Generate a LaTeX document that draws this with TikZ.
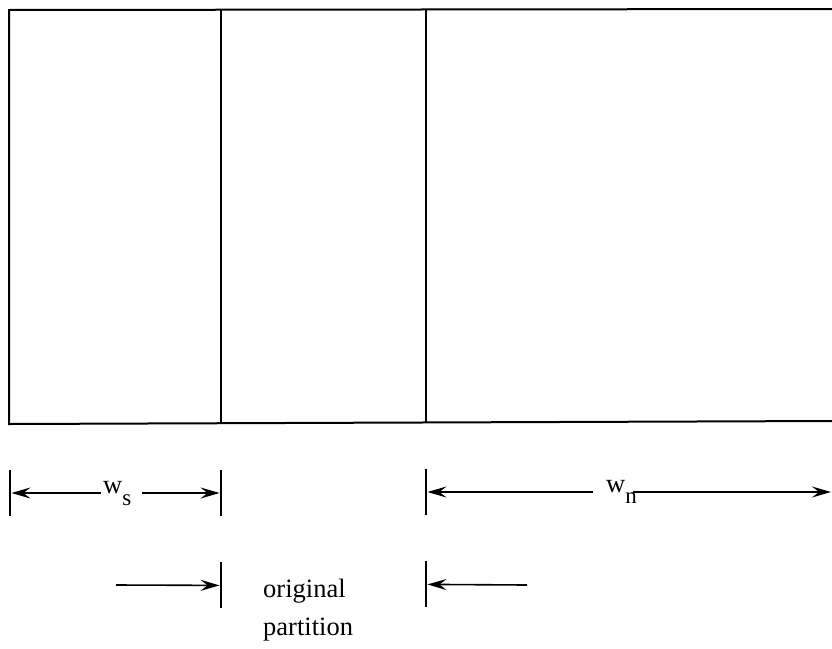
\documentclass[tikz,border=0pt]{standalone}
\usepackage{fontspec}
\setmainfont{Liberation Serif}
\usetikzlibrary{positioning,arrows.meta}

\begin{document}
\begin{tikzpicture}[x=1pt,y=-1pt,
        boxline/.style={line width=2pt},
        dimline/.style={line width=1.6pt, -{Stealth[length=19pt,width=11pt,inset=7pt]}},
        tick/.style={rectangle, fill=black, minimum width=2.5pt, minimum height=46pt, inner sep=0pt},
        labeltext/.style={inner sep=0pt, font=\fontsize{26.5}{38}\selectfont},
        ]
        \useasboundingbox (0,0) rectangle (832,648);
        %Box
        \coordinate (tl) at (9,10);
        \coordinate (tr) at (832,9);
        \coordinate (bl) at (9,424);
        \coordinate (br) at (832,421);
        \coordinate (d1t) at (221,10);
        \coordinate (d1b) at (221,424);
        \coordinate (d2t) at (426,10);
        \coordinate (d2b) at (426,423);
        \draw[boxline] (tr) -- (tl) -- (bl) -- (br);
        \draw[boxline] (d1t) -- (d1b);
        \draw[boxline] (d2t) -- (d2b);

        %Ticks
        \node[tick] (t0) at (10,493) {};
        \node[tick] (t1) at (221,493) {};
        \node[tick] (t2) at (426,492) {};
        \node[tick] [below=46pt of t1] (u1) {};
        \node[tick] [below=46pt of t2] (u2) {};

        %Labels
        \node[labeltext, anchor=base west] (ws) at (103,493) {w\raisebox{-12pt}{\fontsize{23}{27}\selectfont s}};
        \node[labeltext, anchor=base west] (wn) at (606,492) {w\raisebox{-11pt}{\fontsize{23}{27}\selectfont n}};
        \node[labeltext, anchor=base west] (orig) at (263,597) {original};
        \node[labeltext, anchor=base west] (part) at (263,635) {partition};

        %Lines
        \coordinate (wsL) at (101,493);
        \coordinate (wsR) at (142,493);
        \coordinate (wnL) at (593,492);
        \coordinate (wnR) at (633,492);
        \coordinate (wnEnd) at (831,492);
        \coordinate (p1) at (116,585);
        \coordinate (p2) at (527,585);
        \draw[dimline] (wsL) -- (t0);
        \draw[dimline] (wsR) -- (t1);
        \draw[dimline] (wnL) -- (t2);
        \draw[dimline] (wnR) -- (wnEnd);
        \draw[dimline] (p1) -- (u1);
        \draw[dimline] (p2) -- (u2);
\end{tikzpicture}
\end{document}
